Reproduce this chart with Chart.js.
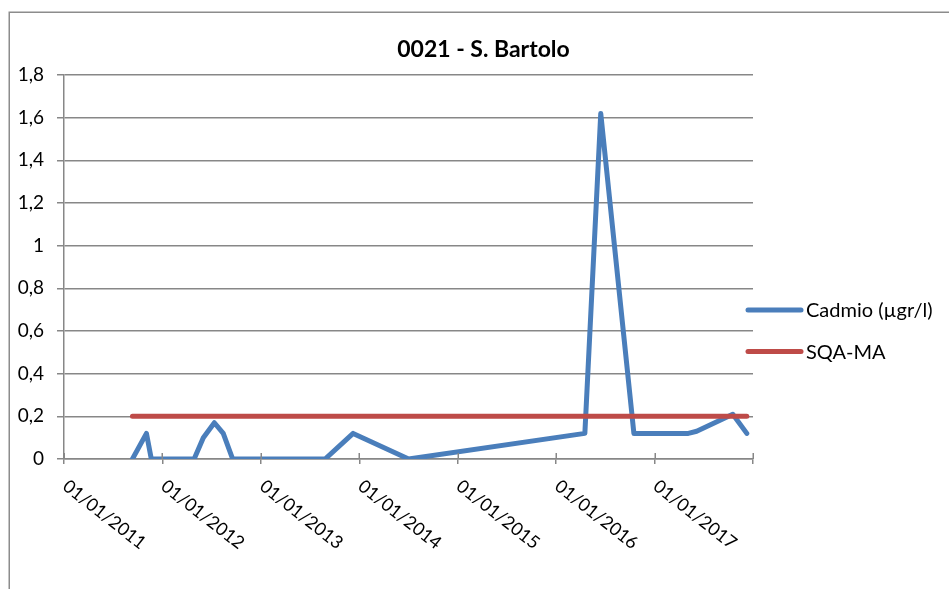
<!DOCTYPE html>
<html>
<head>
<meta charset="utf-8">
<title>0021 - S. Bartolo</title>
<script src="https://cdn.jsdelivr.net/npm/chart.js@4.4.1/dist/chart.umd.min.js"></script>
<style>
  html, body { margin: 0; padding: 0; background: #ffffff; }
  #wrap { width: 949px; height: 589px; position: relative; }
</style>
</head>
<body>
<div id="wrap"><canvas id="chart" width="949" height="589"></canvas></div>
<script>
// Sampling dates and measured cadmium concentrations (µg/l)
const sampleDates = [
  '2011-09-12', '2011-11-03', '2011-11-21', '2012-04-28', '2012-06-01',
  '2012-07-12', '2012-08-14', '2012-09-18', '2013-08-27', '2013-12-09',
  '2014-07-03', '2016-04-17', '2016-06-15', '2016-10-16', '2017-05-06',
  '2017-06-06', '2017-10-18', '2017-12-09'
];
const cadmio = [
  0, 0.12, 0, 0, 0.1,
  0.17, 0.12, 0, 0, 0.12,
  0, 0.12, 1.62, 0.12, 0.12,
  0.13, 0.21, 0.12
];
// Environmental quality standard (annual mean) on the same dates
const sqaMa = [
  0.2, 0.2, 0.2, 0.2, 0.2,
  0.2, 0.2, 0.2, 0.2, 0.2,
  0.2, 0.2, 0.2, 0.2, 0.2,
  0.2, 0.2, 0.2
];
// Date axis: yearly ticks, labelled on 1 January
const tickDates = [
  '2011-01-01', '2012-01-01', '2013-01-01', '2014-01-01',
  '2015-01-01', '2016-01-01', '2017-01-01', '2018-01-01'
];
const xTickLabels = [
  '01/01/2011', '01/01/2012', '01/01/2013', '01/01/2014',
  '01/01/2015', '01/01/2016', '01/01/2017'
];
const yTicks = [0, 0.2, 0.4, 0.6, 0.8, 1, 1.2, 1.4, 1.6, 1.8];
const seriesNames = ['Cadmio (\u00b5gr/l)', 'SQA-MA'];
const chartTitle = '0021 - S. Bartolo';

const BLUE = '#4a7ebb';
const RED = '#be4b48';
const GRID = '#878787';
const FONT = 'Lato, "Open Sans", "DejaVu Sans", sans-serif';

const t = s => Date.parse(s);
const cadmioPts = sampleDates.map((d, i) => ({ x: t(d), y: cadmio[i] }));
const sqaPts = sampleDates.map((d, i) => ({ x: t(d), y: sqaMa[i] }));

// Outer frame, title, rotated date labels, crossing ticks and legend
const decorations = {
  id: 'decorations',
  beforeDraw(chart) {
    const ctx = chart.ctx;
    ctx.save();
    ctx.fillStyle = '#ffffff';
    ctx.fillRect(0, 0, chart.width, chart.height);
    ctx.strokeStyle = '#8c8c8c';
    ctx.lineWidth = 1.5;
    ctx.strokeRect(9.25, 12.25, 1200, 1200);
    ctx.restore();
  },
  afterDraw(chart) {
    const ctx = chart.ctx;
    const xs = chart.scales.x;
    const area = chart.chartArea;
    ctx.save();

    // title
    ctx.fillStyle = '#000000';
    ctx.font = 'bold 23px ' + FONT;
    ctx.textAlign = 'center';
    ctx.textBaseline = 'middle';
    ctx.fillText(chartTitle, 483.5, 50);

    // upper half of the crossing tick marks on the date axis
    ctx.strokeStyle = GRID;
    ctx.lineWidth = 1.5;
    tickDates.forEach(d => {
      const x = Math.round(xs.getPixelForValue(t(d))) + 0.25;
      ctx.beginPath();
      ctx.moveTo(x, area.bottom);
      ctx.lineTo(x, area.bottom - 6);
      ctx.stroke();
    });

    // rotated date labels
    ctx.font = '18px ' + FONT;
    ctx.textAlign = 'left';
    ctx.textBaseline = 'middle';
    ctx.fillStyle = '#000000';
    const ang = 38 * Math.PI / 180;
    xTickLabels.forEach((lab, i) => {
      const x = xs.getPixelForValue(t(tickDates[i]));
      ctx.save();
      ctx.translate(x + 1, area.bottom + 25);
      ctx.rotate(ang);
      ctx.fillText(lab, 0, 0);
      ctx.restore();
    });

    // legend
    const items = [
      { name: seriesNames[0], color: BLUE, y: 310 },
      { name: seriesNames[1], color: RED, y: 351.5 }
    ];
    ctx.lineCap = 'round';
    ctx.lineWidth = 5;
    items.forEach(it => {
      ctx.strokeStyle = it.color;
      ctx.beginPath();
      ctx.moveTo(748, it.y);
      ctx.lineTo(801, it.y);
      ctx.stroke();
      ctx.fillStyle = '#000000';
      ctx.font = '20px ' + FONT;
      ctx.fillText(it.name, 806, it.y + 1);
    });
    ctx.restore();
  }
};

new Chart(document.getElementById('chart'), {
  type: 'line',
  data: {
    datasets: [
      {
        label: seriesNames[0],
        data: cadmioPts,
        borderColor: BLUE,
        backgroundColor: BLUE,
        borderWidth: 5,
        borderJoinStyle: 'round',
        borderCapStyle: 'round',
        pointRadius: 0,
        tension: 0,
        order: 1
      },
      {
        label: seriesNames[1],
        data: sqaPts,
        borderColor: RED,
        backgroundColor: RED,
        borderWidth: 5,
        borderJoinStyle: 'round',
        borderCapStyle: 'round',
        pointRadius: 0,
        tension: 0,
        order: 0
      }
    ]
  },
  options: {
    responsive: false,
    animation: false,
    events: [],
    layout: { padding: { top: 75, right: 196, left: 0, bottom: 0 } },
    plugins: {
      legend: { display: false },
      title: { display: false },
      tooltip: { enabled: false }
    },
    scales: {
      x: {
        type: 'linear',
        min: t(tickDates[0]),
        max: t(tickDates[tickDates.length - 1]),
        afterBuildTicks(scale) {
          scale.ticks = tickDates.map(d => ({ value: t(d) }));
        },
        afterFit(scale) { scale.height = 130; },
        grid: {
          drawOnChartArea: false,
          drawTicks: true,
          tickLength: 5,
          color: GRID,
          lineWidth: 1.5
        },
        border: { display: true, color: GRID, width: 1.5 },
        ticks: { display: false }
      },
      y: {
        min: 0,
        max: 1.8,
        afterBuildTicks(scale) {
          scale.ticks = yTicks.map(v => ({ value: v }));
        },
        afterFit(scale) { scale.width = 64; },
        grid: {
          color: GRID,
          lineWidth: 1.5,
          drawTicks: true,
          tickLength: 7
        },
        border: { display: true, color: GRID, width: 1.5 },
        ticks: {
          padding: 13,
          color: '#000000',
          font: { family: FONT, size: 19 },
          callback: v => String(Math.round(v * 10) / 10).replace('.', ',')
        }
      }
    }
  },
  plugins: [decorations]
});
</script>
</body>
</html>
